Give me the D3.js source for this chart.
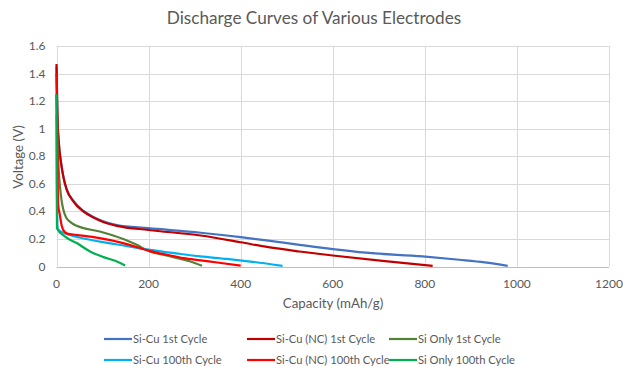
<!DOCTYPE html>
<html>
<head>
<meta charset="utf-8">
<script src="https://cdn.jsdelivr.net/npm/d3@7"></script>
<style>
  body { margin: 0; background: #fff; }
  svg { font-family: Lato, "Open Sans", sans-serif; }
</style>
</head>
<body>
<svg id="chart" width="623" height="366"></svg>
<script>
// series: [capacity (mAh/g), voltage (V)]
var siCu1 = [[0,1.45],[2,1.1],[5,0.9],[10,0.75],[15,0.65],[22,0.56],[36,0.48],[58,0.405],[80,0.36],[100,0.33],[131,0.30],[200,0.278],[313,0.245],[400,0.213],[460,0.188],[528,0.157],[600,0.126],[672,0.1],[795,0.073],[875,0.049],[930,0.03],[980,0.005]];
var siCuNC1 = [[0,1.47],[2,1.1],[5,0.9],[10,0.75],[15,0.65],[22,0.56],[36,0.475],[58,0.4],[80,0.355],[100,0.325],[131,0.295],[200,0.265],[313,0.225],[400,0.176],[460,0.14],[528,0.109],[600,0.08],[708,0.041],[817,0.005]];
var siOnly1 = [[0,1.25],[2,0.95],[4,0.75],[7,0.6],[11,0.48],[15,0.41],[22,0.35],[29,0.326],[44,0.295],[94,0.254],[145,0.199],[174,0.157],[203,0.109],[232,0.085],[262,0.061],[291,0.036],[316,0.005]];
var siCu100 = [[0,1.1],[1,0.6],[2,0.3],[3.5,0.266],[18,0.242],[50,0.21],[94,0.181],[150,0.15],[203,0.121],[260,0.095],[312,0.073],[370,0.055],[421,0.036],[491,0.005]];
var siCuNC100 = [[0,1.4],[2,0.8],[3.5,0.45],[7,0.38],[11,0.3],[18,0.25],[25,0.237],[36,0.232],[94,0.206],[145,0.17],[203,0.112],[240,0.085],[276,0.061],[313,0.045],[349,0.029],[400,0.007]];
var siOnly100 = [[0,1.25],[0.5,0.6],[1,0.278],[18,0.218],[44,0.17],[73,0.109],[102,0.068],[131,0.036],[149,0.007]];

var seriesNames = ["Si-Cu 1st Cycle", "Si-Cu (NC) 1st Cycle", "Si Only 1st Cycle",
                   "Si-Cu 100th Cycle", "Si-Cu (NC) 100th Cycle", "Si Only 100th Cycle"];
var seriesData = [siCu1, siCuNC1, siOnly1, siCu100, siCuNC100, siOnly100];
var seriesColors = ["#4472C4", "#C00000", "#548235", "#00B0F0", "#FF0000", "#00B050"];

var xTicks = [0, 200, 400, 600, 800, 1000, 1200];
var yTicks = [0, 0.2, 0.4, 0.6, 0.8, 1, 1.2, 1.4, 1.6];

var svg = d3.select("#chart");
var plot = {left: 56.5, right: 609, top: 46, bottom: 266.5};

var x = d3.scaleLinear().domain([0, 1200]).range([plot.left, plot.right]);
var y = d3.scaleLinear().domain([0, 1.6]).range([plot.bottom, plot.top]);

// gridlines
svg.append("g").selectAll("line")
  .data(yTicks).enter().append("line")
  .attr("x1", plot.left).attr("x2", plot.right)
  .attr("y1", function(d) { return Math.round(y(d)) + 0.5; })
  .attr("y2", function(d) { return Math.round(y(d)) + 0.5; })
  .attr("stroke", function(d) { return d === 0 ? "#bfbfbf" : "#d9d9d9"; })
  .attr("stroke-width", 1);

svg.append("g").selectAll("line")
  .data(xTicks).enter().append("line")
  .attr("y1", plot.top).attr("y2", plot.bottom)
  .attr("x1", function(d) { return Math.round(x(d)) + 0.5; })
  .attr("x2", function(d) { return Math.round(x(d)) + 0.5; })
  .attr("stroke", "#d9d9d9")
  .attr("stroke-width", 1);

// tick labels
svg.append("g").selectAll("text")
  .data(yTicks).enter().append("text")
  .attr("x", plot.left - 11)
  .attr("y", function(d) { return y(d) + 4; })
  .attr("text-anchor", "end")
  .attr("font-size", 12)
  .attr("fill", "#595959")
  .text(function(d) { return d3.format("")(d); });

svg.append("g").selectAll("text")
  .data(xTicks).enter().append("text")
  .attr("x", function(d) { return x(d); })
  .attr("y", 288)
  .attr("text-anchor", "middle")
  .attr("font-size", 12)
  .attr("fill", "#595959")
  .text(function(d) { return d; });

// lines
var line = d3.line()
  .x(function(d) { return x(d[0]); })
  .y(function(d) { return y(d[1]); })
  .curve(d3.curveMonotoneX);

svg.append("g").selectAll("path")
  .data(seriesData).enter().append("path")
  .attr("d", line)
  .attr("fill", "none")
  .attr("stroke", function(d, i) { return seriesColors[i]; })
  .attr("stroke-width", 2.2)
  .attr("stroke-linejoin", "round");

// titles
svg.append("text")
  .attr("x", 314).attr("y", 24)
  .attr("text-anchor", "middle")
  .attr("font-size", 17.2)
  .attr("fill", "#595959")
  .text("Discharge Curves of Various Electrodes");

svg.append("text")
  .attr("x", 333).attr("y", 308)
  .attr("text-anchor", "middle")
  .attr("font-size", 13.3)
  .attr("fill", "#595959")
  .text("Capacity (mAh/g)");

svg.append("text")
  .attr("transform", "translate(23,157) rotate(-90)")
  .attr("text-anchor", "middle")
  .attr("font-size", 13.3)
  .attr("fill", "#595959")
  .text("Voltage (V)");

// legend
var legX = [104, 247, 389];
var legY = [339, 360];
var legend = svg.append("g").selectAll("g")
  .data(seriesNames).enter().append("g")
  .attr("transform", function(d, i) {
    return "translate(" + legX[i % 3] + "," + legY[Math.floor(i / 3)] + ")";
  });

legend.append("line")
  .attr("x1", 0).attr("x2", 28)
  .attr("y1", 0).attr("y2", 0)
  .attr("stroke", function(d, i) { return seriesColors[i]; })
  .attr("stroke-width", 2.2);

legend.append("text")
  .attr("x", 29).attr("y", 4)
  .attr("font-size", 11.2)
  .attr("fill", "#595959")
  .text(function(d) { return d; });
</script>
</body>
</html>
